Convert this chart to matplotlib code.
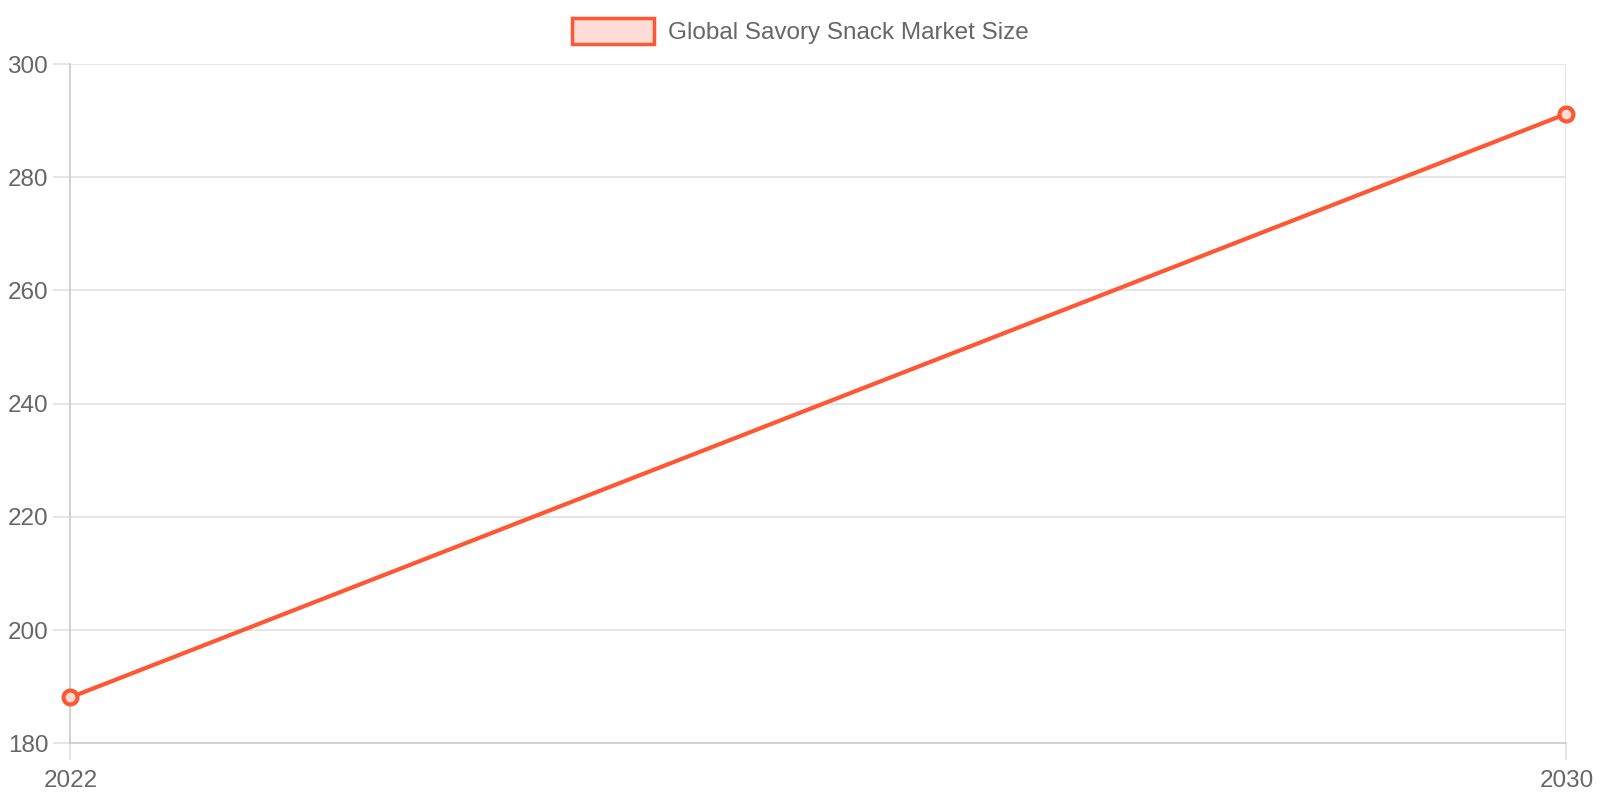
import matplotlib
matplotlib.use("Agg")
import matplotlib.pyplot as plt
import matplotlib.patches as mpatches

plt.rcParams["font.family"] = ["Liberation Sans", "DejaVu Sans"]

years = ["2022", "2030"]
market_size = [188.1, 291.2]
series_label = "Global Savory Snack Market Size"

LINE = "#FF5733"
FILL = "#FFDDD6"
GRID = "#E2E2E2"
TEXT = "#666666"

fig = plt.figure(figsize=(16, 8), dpi=100)
ax = fig.add_axes([0.044, 0.071, 0.935, 0.849])

x = list(range(len(years)))
ax.plot(x, market_size, color=LINE, linewidth=3, zorder=3,
        marker="o", markersize=10, markerfacecolor=FILL,
        markeredgecolor=LINE, markeredgewidth=3, clip_on=False)

ax.set_xlim(0, len(years) - 1)
ax.set_ylim(180, 300)
ax.set_yticks(range(180, 301, 20))
ax.set_xticks(x)
ax.set_xticklabels(years)

ax.grid(True, color=GRID, linewidth=1.2)
ax.set_axisbelow(True)
for side in ["top", "right"]:
    ax.spines[side].set_visible(False)
for side in ["left", "bottom"]:
    ax.spines[side].set_color("#CCCCCC")
    ax.spines[side].set_linewidth(1.2)
ax.tick_params(axis="both", length=12, color=GRID, width=1.2,
               labelsize=17.5, labelcolor=TEXT)
ax.tick_params(axis="y", pad=4)
ax.tick_params(axis="x", pad=7)

handle = mpatches.Patch(facecolor=FILL, edgecolor=LINE, linewidth=2.5, label=series_label)
fig.legend(handles=[handle], loc="upper center", bbox_to_anchor=(0.5, 1.0),
           frameon=False, fontsize=17.5, labelcolor=TEXT,
           handlelength=3.4, handleheight=1.25, handletextpad=0.55,
           borderaxespad=0.35)

fig.savefig("out.png", dpi=100)
plt.close(fig)
